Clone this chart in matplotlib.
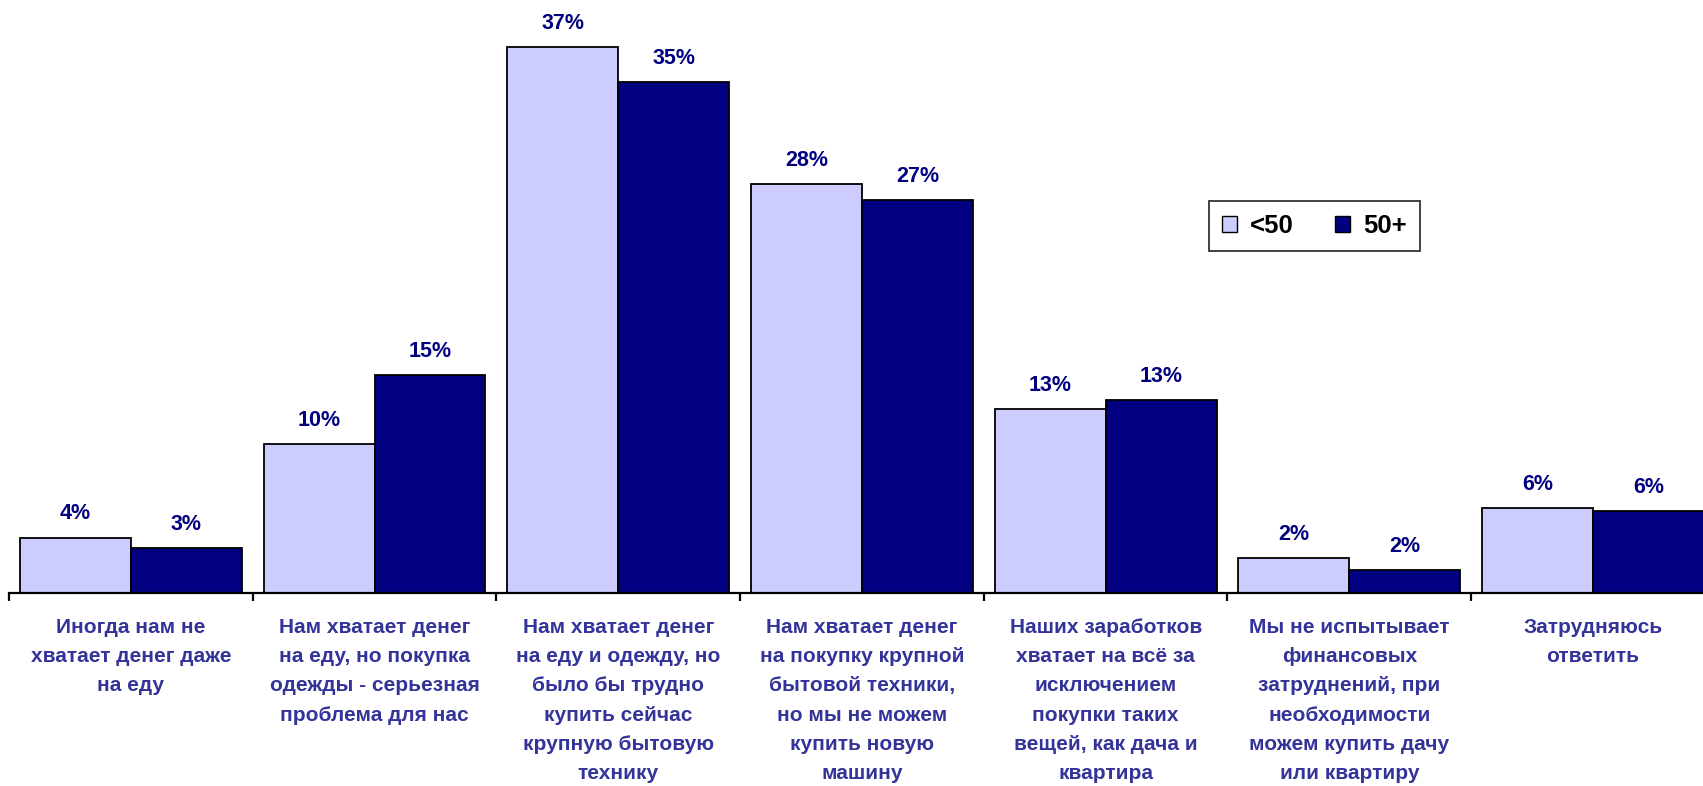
import matplotlib.pyplot as plt
import numpy as np
from matplotlib.patches import Patch

# категории ответов
categories = [
    "Иногда нам не\nхватает денег даже\nна еду",
    "Нам хватает денег\nна еду, но покупка\nодежды - серьезная\nпроблема для нас",
    "Нам хватает денег\nна еду и одежду, но\nбыло бы трудно\nкупить сейчас\nкрупную бытовую\nтехнику",
    "Нам хватает денег\nна покупку крупной\nбытовой техники,\nно мы не можем\nкупить новую\nмашину",
    "Наших заработков\nхватает на всё за\nисключением\nпокупки таких\nвещей, как дача и\nквартира",
    "Мы не испытывает\nфинансовых\nзатруднений, при\nнеобходимости\nможем купить дачу\nили квартиру",
    "Затрудняюсь\nответить",
]
series_names = ["<50", "50+"]
under50 = [3.8, 10.2, 37.4, 28.0, 12.6, 2.4, 5.8]
over50 = [3.1, 14.9, 35.0, 26.9, 13.2, 1.6, 5.6]

plt.rcParams['font.family'] = ['Liberation Sans', 'DejaVu Sans']

W, H = 1703, 786
fig = plt.figure(figsize=(W / 100, H / 100), dpi=100)
# ось немного выходит за правый край, как в оригинале
left = 9 / W
width = 7 * 243.7 / W
bottom = (H - 593) / H
height = 40 * 14.6 / H
ax = fig.add_axes([left, bottom, width, height])

x = np.arange(len(categories))
bw = 0.455
b1 = ax.bar(x - bw / 2, under50, bw, color='#CCCCFF', edgecolor='black', linewidth=1.3)
b2 = ax.bar(x + bw / 2, over50, bw, color='#000080', edgecolor='black', linewidth=1.3)

for bars in (b1, b2):
    for r in bars:
        ax.annotate(f"{r.get_height():.0f}%", (r.get_x() + r.get_width() / 2, r.get_height()),
                    xytext=(0, 13), textcoords='offset points', ha='center', va='baseline',
                    fontsize=15.5, fontweight='bold', color='#000080')

ax.set_xlim(-0.5, len(categories) - 0.5)
ax.set_ylim(0, 40)
for s in ['left', 'right', 'top']:
    ax.spines[s].set_visible(False)
ax.spines['bottom'].set_linewidth(1.6)
ax.set_yticks([])

ax.set_xticks(x)
ax.set_xticklabels(categories, fontsize=15, fontweight='bold', color='#333399', linespacing=1.68)
ax.tick_params(axis='x', which='major', length=0, pad=18)
ax.set_xticks(np.arange(len(categories)) - 0.5, minor=True)
ax.tick_params(axis='x', which='minor', length=6, width=1.6, direction='out')

handles = [Patch(facecolor='#CCCCFF', edgecolor='black'), Patch(facecolor='#000080', edgecolor='black')]
leg = ax.legend(handles, series_names, loc='upper left', bbox_to_anchor=(1209 / W, 1 - 201 / H),
                bbox_transform=fig.transFigure, ncol=2, frameon=True, fancybox=False,
                borderaxespad=0, handlelength=0.6, handleheight=0.6, handletextpad=0.5,
                columnspacing=1.6, borderpad=0.5,
                prop={'weight': 'bold', 'size': 18.5})
leg.get_frame().set_edgecolor('black')
leg.get_frame().set_linewidth(1.3)

fig.savefig('out.png', dpi=100)
